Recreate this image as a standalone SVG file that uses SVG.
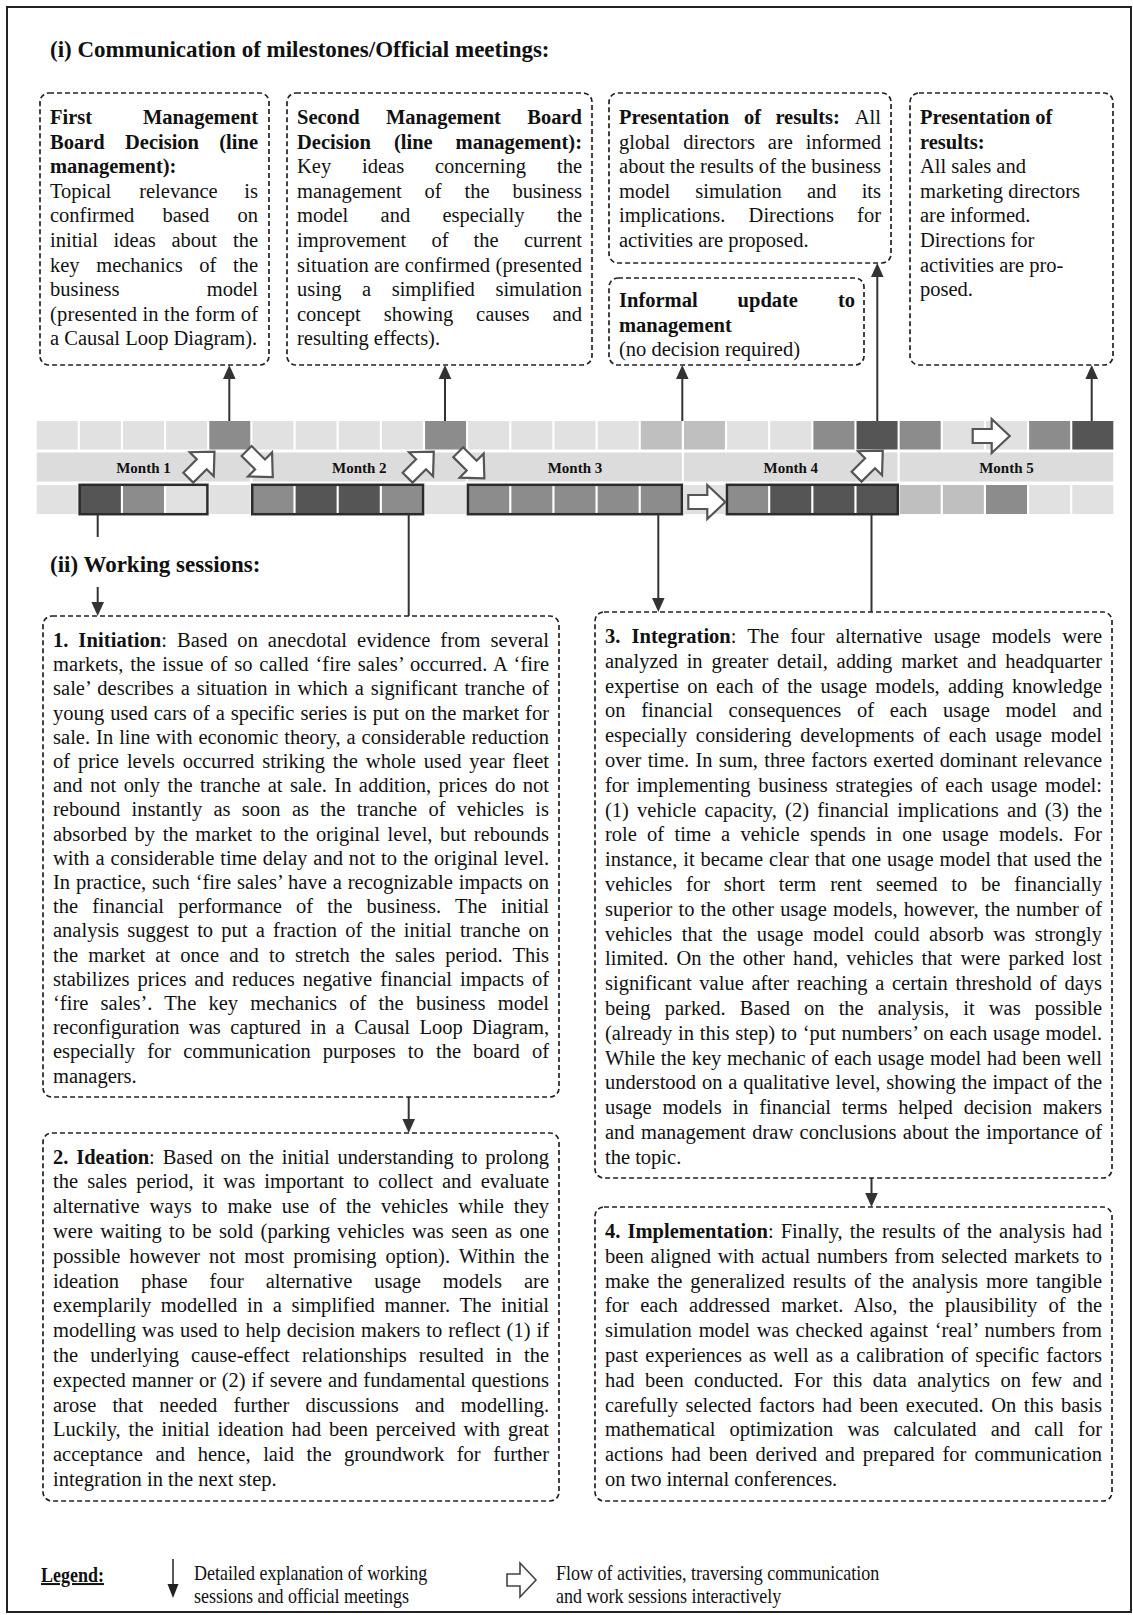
<svg xmlns="http://www.w3.org/2000/svg" xmlns:xlink="http://www.w3.org/1999/xlink" width="1133" height="1615" viewBox="0 0 1133 1615">
<style>
text{font-family:"Liberation Serif","Times New Roman",serif;fill:#111}
.t{font-size:20.5px}
.hb{font-size:23px;font-weight:bold}
.b{font-size:20.5px}
.bold{font-weight:bold}
.end{text-anchor:end}
.mon{font-size:15px;font-weight:bold;text-anchor:middle}
.lg{font-size:20px}
.box{fill:none;stroke:#222;stroke-width:1.7;stroke-dasharray:5 3}
.L{fill:#e1e1e1}.D{fill:#8c8c8c}.X{fill:#555555}.M{fill:#bfbfbf}
.band{fill:#dcdcdc}
.grp{fill:none;stroke:#2b2b2b;stroke-width:2.5}
.ba{fill:#fff;stroke:#555;stroke-width:2.2;stroke-linejoin:miter}
.con{stroke:#333;stroke-width:2;fill:none}
.ah{fill:#333}
</style>
<defs>
<path id="barrow" d="M0,-7 L19,-7 L19,-17 L37,0 L19,17 L19,7 L0,7 Z"/>
</defs>
<rect x="7" y="7" width="1124" height="1605" fill="none" stroke="#222" stroke-width="2"/>

<text class="hb" x="50" y="57">(i) Communication of milestones/Official meetings:</text>

<!-- Top boxes -->
<g id="boxA">
<rect class="box" x="40" y="93" width="229" height="272" rx="9"/>
<text class="t bold" x="50" y="124">First</text><text class="t bold end" x="258" y="124">Management</text>
<text class="t bold" x="50" y="148.6">Board</text><text class="t bold" x="125" y="148.6">Decision</text><text class="t bold end" x="258" y="148.6">(line</text>
<text class="t bold" x="50" y="173.2">management):</text>
<text class="t" x="50" y="197.8">Topical</text><text class="t" x="139.2" y="197.8">relevance</text><text class="t end" x="258" y="197.8">is</text>
<text class="t" x="50" y="222.4">confirmed</text><text class="t" x="162.5" y="222.4">based</text><text class="t end" x="258" y="222.4">on</text>
<text class="t" x="50" y="247">initial</text><text class="t" x="113.6" y="247">ideas</text><text class="t" x="171.5" y="247">about</text><text class="t end" x="258" y="247">the</text>
<text class="t" x="50" y="271.6">key</text><text class="t" x="96.2" y="271.6">mechanics</text><text class="t" x="199.3" y="271.6">of</text><text class="t end" x="258" y="271.6">the</text>
<text class="t" x="50" y="296.2">business</text><text class="t end" x="258" y="296.2">model</text>
<text class="t" x="50" y="320.8" textLength="208" lengthAdjust="spacing">(presented in the form of</text>
<text class="t" x="50" y="345.4">a Causal Loop Diagram).</text>
</g>

<g id="boxB">
<rect class="box" x="287" y="93" width="305" height="272" rx="9"/>
<text class="t bold" x="297" y="124">Second</text><text class="t bold" x="385.9" y="124">Management</text><text class="t bold end" x="582" y="124">Board</text>
<text class="t bold" x="297" y="148.6">Decision</text><text class="t bold" x="394" y="148.6">(line</text><text class="t bold end" x="582" y="148.6">management):</text>
<text class="t" x="297" y="173.2">Key</text><text class="t" x="362" y="173.2">ideas</text><text class="t" x="434.9" y="173.2">concerning</text><text class="t end" x="582" y="173.2">the</text>
<text class="t" x="297" y="197.8">management</text><text class="t" x="424.6" y="197.8">of</text><text class="t" x="464.5" y="197.8">the</text><text class="t end" x="582" y="197.8">business</text>
<text class="t" x="297" y="222.4">model</text><text class="t" x="380.6" y="222.4">and</text><text class="t" x="442.5" y="222.4">especially</text><text class="t end" x="582" y="222.4">the</text>
<text class="t" x="297" y="247">improvement</text><text class="t" x="431.4" y="247">of</text><text class="t" x="473.6" y="247">the</text><text class="t end" x="582" y="247">current</text>
<text class="t" x="297" y="271.6" textLength="285" lengthAdjust="spacing">situation are confirmed (presented</text>
<text class="t" x="297" y="296.2">using</text><text class="t" x="362" y="296.2">a</text><text class="t" x="391.7" y="296.2">simplified</text><text class="t end" x="582" y="296.2">simulation</text>
<text class="t" x="297" y="320.8">concept</text><text class="t" x="383.7" y="320.8">showing</text><text class="t" x="476.1" y="320.8">causes</text><text class="t end" x="582" y="320.8">and</text>
<text class="t" x="297" y="345.4">resulting effects).</text>
</g>

<g id="boxC">
<rect class="box" x="609" y="93" width="282" height="170" rx="9"/>
<text class="t bold" x="619" y="124">Presentation</text><text class="t bold" x="743.9" y="124">of</text><text class="t bold" x="775.4" y="124">results:</text><text class="t end" x="881" y="124">All</text>
<text class="t" x="619" y="148.6">global</text><text class="t" x="683.2" y="148.6">directors</text><text class="t" x="767.8" y="148.6">are</text><text class="t end" x="881" y="148.6">informed</text>
<text class="t" x="619" y="173.2" textLength="262" lengthAdjust="spacing">about the results of the business</text>
<text class="t" x="619" y="197.8">model</text><text class="t" x="695.3" y="197.8">simulation</text><text class="t" x="806.9" y="197.8">and</text><text class="t end" x="881" y="197.8">its</text>
<text class="t" x="619" y="222.4">implications.</text><text class="t" x="748.6" y="222.4">Directions</text><text class="t end" x="881" y="222.4">for</text>
<text class="t" x="619" y="247">activities are proposed.</text>
</g>

<g id="boxD">
<rect class="box" x="609" y="278" width="255" height="87" rx="9"/>
<text class="t bold" x="619" y="307">Informal</text><text class="t bold" x="737.6" y="307">update</text><text class="t bold end" x="855" y="307">to</text>
<text class="t bold" x="619" y="331.6">management</text>
<text class="t" x="619" y="356.2">(no decision required)</text>
</g>

<g id="boxE">
<rect class="box" x="910" y="93" width="203" height="272" rx="9"/>
<text class="t bold" x="920" y="124">Presentation of</text>
<text class="t bold" x="920" y="148.6">results:</text>
<text class="t" x="920" y="173.2">All sales and</text>
<text class="t" x="920" y="197.8">marketing directors</text>
<text class="t" x="920" y="222.4">are informed.</text>
<text class="t" x="920" y="247">Directions for</text>
<text class="t" x="920" y="271.6">activities are pro-</text>
<text class="t" x="920" y="296.2">posed.</text>
</g>

<!-- Timeline -->
<g id="timeline">
<g id="row1">
<rect class="L" x="36.7" y="421" width="41" height="28.5"/>
<rect class="L" x="79.85" y="421" width="41" height="28.5"/>
<rect class="L" x="123" y="421" width="41" height="28.5"/>
<rect class="L" x="166.15" y="421" width="41" height="28.5"/>
<rect class="D" x="209.3" y="421" width="41" height="28.5"/>
<rect class="L" x="252.45" y="421" width="41" height="28.5"/>
<rect class="L" x="295.6" y="421" width="41" height="28.5"/>
<rect class="L" x="338.75" y="421" width="41" height="28.5"/>
<rect class="L" x="381.9" y="421" width="41" height="28.5"/>
<rect class="D" x="425.05" y="421" width="41" height="28.5"/>
<rect class="L" x="468.2" y="421" width="41" height="28.5"/>
<rect class="L" x="511.35" y="421" width="41" height="28.5"/>
<rect class="L" x="554.5" y="421" width="41" height="28.5"/>
<rect class="L" x="597.65" y="421" width="41" height="28.5"/>
<rect class="M" x="640.8" y="421" width="41" height="28.5"/>
<rect class="M" x="683.95" y="421" width="41" height="28.5"/>
<rect class="L" x="727.1" y="421" width="41" height="28.5"/>
<rect class="L" x="770.25" y="421" width="41" height="28.5"/>
<rect class="D" x="813.4" y="421" width="41" height="28.5"/>
<rect class="X" x="856.55" y="421" width="41" height="28.5"/>
<rect class="D" x="899.7" y="421" width="41" height="28.5"/>
<rect class="L" x="942.85" y="421" width="41" height="28.5"/>
<rect class="L" x="986" y="421" width="41" height="28.5"/>
<rect class="D" x="1029.15" y="421" width="41" height="28.5"/>
<rect class="X" x="1072.3" y="421" width="41" height="28.5"/>
</g>
<g id="months">
<rect class="band" x="36.7" y="452.5" width="213.6" height="29"/>
<rect class="band" x="252.45" y="452.5" width="213.6" height="29"/>
<rect class="band" x="468.2" y="452.5" width="213.6" height="29"/>
<rect class="band" x="683.95" y="452.5" width="213.6" height="29"/>
<rect class="band" x="899.7" y="452.5" width="213.6" height="29"/>
<text class="mon" x="143.5" y="472.5">Month 1</text>
<text class="mon" x="359.3" y="472.5">Month 2</text>
<text class="mon" x="575" y="472.5">Month 3</text>
<text class="mon" x="790.8" y="472.5">Month 4</text>
<text class="mon" x="1006.5" y="472.5">Month 5</text>
</g>
<g id="row3">
<rect class="L" x="36.7" y="485" width="41" height="29"/>
<rect class="X" x="79.85" y="485" width="41" height="29"/>
<rect class="D" x="123" y="485" width="41" height="29"/>
<rect class="L" x="166.15" y="485" width="41" height="29"/>
<rect class="L" x="209.3" y="485" width="41" height="29"/>
<rect class="D" x="252.45" y="485" width="41" height="29"/>
<rect class="X" x="295.6" y="485" width="41" height="29"/>
<rect class="X" x="338.75" y="485" width="41" height="29"/>
<rect class="D" x="381.9" y="485" width="41" height="29"/>
<rect class="L" x="425.05" y="485" width="41" height="29"/>
<rect class="D" x="468.2" y="485" width="41" height="29"/>
<rect class="D" x="511.35" y="485" width="41" height="29"/>
<rect class="D" x="554.5" y="485" width="41" height="29"/>
<rect class="D" x="597.65" y="485" width="41" height="29"/>
<rect class="D" x="640.8" y="485" width="41" height="29"/>
<rect class="L" x="683.95" y="485" width="41" height="29"/>
<rect class="D" x="727.1" y="485" width="41" height="29"/>
<rect class="X" x="770.25" y="485" width="41" height="29"/>
<rect class="X" x="813.4" y="485" width="41" height="29"/>
<rect class="X" x="856.55" y="485" width="41" height="29"/>
<rect class="M" x="899.7" y="485" width="41" height="29"/>
<rect class="M" x="942.85" y="485" width="41" height="29"/>
<rect class="D" x="986" y="485" width="41" height="29"/>
<rect class="L" x="1029.15" y="485" width="41" height="29"/>
<rect class="L" x="1072.3" y="485" width="41" height="29"/>
<rect class="grp" x="79.6" y="484.8" width="127.8" height="29.4"/>
<rect class="grp" x="252.2" y="484.8" width="170.9" height="29.4"/>
<rect class="grp" x="467.9" y="484.8" width="214" height="29.4"/>
<rect class="grp" x="726.9" y="484.8" width="170.9" height="29.4"/>
</g>
<g id="flow-arrows">
<use xlink:href="#barrow" class="ba" transform="translate(188.3,477.7) rotate(-45)"/>
<use xlink:href="#barrow" class="ba" transform="translate(246.6,451) rotate(45)"/>
<use xlink:href="#barrow" class="ba" transform="translate(407.6,477.7) rotate(-45)"/>
<use xlink:href="#barrow" class="ba" transform="translate(458.2,452.2) rotate(45)"/>
<use xlink:href="#barrow" class="ba" transform="translate(688.3,502)"/>
<use xlink:href="#barrow" class="ba" transform="translate(856.6,476.7) rotate(-45)"/>
<use xlink:href="#barrow" class="ba" transform="translate(972.7,436)"/>
</g>
</g>

<text class="hb" x="50" y="572">(ii) Working sessions:</text>

<!-- Connectors -->
<g id="connectors">
<line class="con" x1="229.3" y1="421" x2="229.3" y2="378"/><polygon class="ah" points="223,379 235.6,379 229.3,365"/>
<line class="con" x1="445" y1="421" x2="445" y2="378"/><polygon class="ah" points="438.7,379 451.3,379 445,365"/>
<line class="con" x1="682.3" y1="421" x2="682.3" y2="378"/><polygon class="ah" points="676,379 688.6,379 682.3,365"/>
<line class="con" x1="877.3" y1="421" x2="877.3" y2="276"/><polygon class="ah" points="871,277 883.6,277 877.3,263"/>
<line class="con" x1="1091.7" y1="421" x2="1091.7" y2="378"/><polygon class="ah" points="1085.4,379 1098,379 1091.7,365"/>
<line class="con" x1="97.7" y1="514" x2="97.7" y2="537"/>
<line class="con" x1="97.7" y1="587" x2="97.7" y2="603"/><polygon class="ah" points="91.4,602 104,602 97.7,616"/>
<line class="con" x1="408.7" y1="514" x2="408.7" y2="616"/>
<line class="con" x1="658.3" y1="514" x2="658.3" y2="599"/><polygon class="ah" points="652,598 664.6,598 658.3,612"/>
<line class="con" x1="871.5" y1="514" x2="871.5" y2="612"/>
<line class="con" x1="408.7" y1="1097" x2="408.7" y2="1120"/><polygon class="ah" points="402.4,1119 415,1119 408.7,1133"/>
<line class="con" x1="871.5" y1="1178" x2="871.5" y2="1194"/><polygon class="ah" points="865.2,1193 877.8,1193 871.5,1207"/>
</g>

<!-- Working session boxes -->
<g id="box1">
<rect class="box" x="43" y="616" width="516" height="481" rx="9"/>
<text class="b" x="53" y="647" textLength="496" lengthAdjust="spacing" word-spacing="4.6"><tspan class="bold">1. Initiation</tspan>: Based on anecdotal evidence from several</text>
<text class="b" x="53" y="671.2" textLength="496" lengthAdjust="spacing" word-spacing="1.6">markets, the issue of so called ‘fire sales’ occurred. A ‘fire</text>
<text class="b" x="53" y="695.4" textLength="496" lengthAdjust="spacing" word-spacing="1.8">sale’ describes a situation in which a significant tranche of</text>
<text class="b" x="53" y="719.6" textLength="496" lengthAdjust="spacing" word-spacing="0.8">young used cars of a specific series is put on the market for</text>
<text class="b" x="53" y="743.8" textLength="496" lengthAdjust="spacing" word-spacing="0.8">sale. In line with economic theory, a considerable reduction</text>
<text class="b" x="53" y="768" textLength="496" lengthAdjust="spacing" word-spacing="2.8">of price levels occurred striking the whole used year fleet</text>
<text class="b" x="53" y="792.2" textLength="496" lengthAdjust="spacing" word-spacing="2.3">and not only the tranche at sale. In addition, prices do not</text>
<text class="b" x="53" y="816.4" textLength="496" lengthAdjust="spacing" word-spacing="6.2">rebound instantly as soon as the tranche of vehicles is</text>
<text class="b" x="53" y="840.6" textLength="496" lengthAdjust="spacing" word-spacing="2.5">absorbed by the market to the original level, but rebounds</text>
<text class="b" x="53" y="864.8" textLength="496" lengthAdjust="spacing" word-spacing="0.8">with a considerable time delay and not to the original level.</text>
<text class="b" x="53" y="889" textLength="496" lengthAdjust="spacing" word-spacing="0.7">In practice, such ‘fire sales’ have a recognizable impacts on</text>
<text class="b" x="53" y="913.2" textLength="496" lengthAdjust="spacing" word-spacing="9">the financial performance of the business. The initial</text>
<text class="b" x="53" y="937.4" textLength="496" lengthAdjust="spacing" word-spacing="3.1">analysis suggest to put a fraction of the initial tranche on</text>
<text class="b" x="53" y="961.6" textLength="496" lengthAdjust="spacing" word-spacing="5">the market at once and to stretch the sales period. This</text>
<text class="b" x="53" y="985.8" textLength="496" lengthAdjust="spacing" word-spacing="2.9">stabilizes prices and reduces negative financial impacts of</text>
<text class="b" x="53" y="1010" textLength="496" lengthAdjust="spacing" word-spacing="7.1">‘fire sales’. The key mechanics of the business model</text>
<text class="b" x="53" y="1034.2" textLength="496" lengthAdjust="spacing" word-spacing="4.3">reconfiguration was captured in a Causal Loop Diagram,</text>
<text class="b" x="53" y="1058.4" textLength="496" lengthAdjust="spacing" word-spacing="7">especially for communication purposes to the board of</text>
<text class="b" x="53" y="1082.6">managers.</text>
</g>

<g id="box2">
<rect class="box" x="43" y="1133" width="516" height="368" rx="9"/>
<text class="b" x="53" y="1163.6" textLength="496" lengthAdjust="spacing" word-spacing="2.7"><tspan class="bold">2. Ideation</tspan>: Based on the initial understanding to prolong</text>
<text class="b" x="53" y="1188.4" textLength="496" lengthAdjust="spacing" word-spacing="4">the sales period, it was important to collect and evaluate</text>
<text class="b" x="53" y="1213.2" textLength="496" lengthAdjust="spacing" word-spacing="4.8">alternative ways to make use of the vehicles while they</text>
<text class="b" x="53" y="1238" textLength="496" lengthAdjust="spacing" word-spacing="2.2">were waiting to be sold (parking vehicles was seen as one</text>
<text class="b" x="53" y="1262.8" textLength="496" lengthAdjust="spacing" word-spacing="3.8">possible however not most promising option). Within the</text>
<text class="b" x="53" y="1287.6" textLength="496" lengthAdjust="spacing" word-spacing="16.8">ideation phase four alternative usage models are</text>
<text class="b" x="53" y="1312.4" textLength="496" lengthAdjust="spacing" word-spacing="4.5">exemplarily modelled in a simplified manner. The initial</text>
<text class="b" x="53" y="1337.2" textLength="496" lengthAdjust="spacing" word-spacing="0.9">modelling was used to help decision makers to reflect (1) if</text>
<text class="b" x="53" y="1362" textLength="496" lengthAdjust="spacing" word-spacing="7">the underlying cause-effect relationships resulted in the</text>
<text class="b" x="53" y="1386.8" textLength="496" lengthAdjust="spacing" word-spacing="0.7">expected manner or (2) if severe and fundamental questions</text>
<text class="b" x="53" y="1411.6" textLength="496" lengthAdjust="spacing" word-spacing="11">arose that needed further discussions and modelling.</text>
<text class="b" x="53" y="1436.4" textLength="496" lengthAdjust="spacing" word-spacing="2.7">Luckily, the initial ideation had been perceived with great</text>
<text class="b" x="53" y="1461.2" textLength="496" lengthAdjust="spacing" word-spacing="7.4">acceptance and hence, laid the groundwork for further</text>
<text class="b" x="53" y="1486">integration in the next step.</text>
</g>

<g id="box3">
<rect class="box" x="595" y="612" width="517" height="566" rx="9"/>
<text class="b" x="605" y="643" textLength="497" lengthAdjust="spacing" word-spacing="6.1"><tspan class="bold">3. Integration</tspan>: The four alternative usage models were</text>
<text class="b" x="605" y="667.8" textLength="497" lengthAdjust="spacing" word-spacing="3.7">analyzed in greater detail, adding market and headquarter</text>
<text class="b" x="605" y="692.6" textLength="497" lengthAdjust="spacing" word-spacing="3.1">expertise on each of the usage models, adding knowledge</text>
<text class="b" x="605" y="717.4" textLength="497" lengthAdjust="spacing" word-spacing="10.6">on financial consequences of each usage model and</text>
<text class="b" x="605" y="742.2" textLength="497" lengthAdjust="spacing" word-spacing="3.7">especially considering developments of each usage model</text>
<text class="b" x="605" y="767" textLength="497" lengthAdjust="spacing" word-spacing="1.1">over time. In sum, three factors exerted dominant relevance</text>
<text class="b" x="605" y="791.8" textLength="497" lengthAdjust="spacing" word-spacing="2.6">for implementing business strategies of each usage model:</text>
<text class="b" x="605" y="816.6" textLength="497" lengthAdjust="spacing" word-spacing="3">(1) vehicle capacity, (2) financial implications and (3) the</text>
<text class="b" x="605" y="841.4" textLength="497" lengthAdjust="spacing" word-spacing="5.1">role of time a vehicle spends in one usage models. For</text>
<text class="b" x="605" y="866.2" textLength="497" lengthAdjust="spacing" word-spacing="0.8">instance, it became clear that one usage model that used the</text>
<text class="b" x="605" y="891" textLength="497" lengthAdjust="spacing" word-spacing="8.75">vehicles for short term rent seemed to be financially</text>
<text class="b" x="605" y="915.8" textLength="497" lengthAdjust="spacing" word-spacing="1">superior to the other usage models, however, the number of</text>
<text class="b" x="605" y="940.6" textLength="497" lengthAdjust="spacing" word-spacing="4.5">vehicles that the usage model could absorb was strongly</text>
<text class="b" x="605" y="965.4" textLength="497" lengthAdjust="spacing" word-spacing="3">limited. On the other hand, vehicles that were parked lost</text>
<text class="b" x="605" y="990.2" textLength="497" lengthAdjust="spacing" word-spacing="2.6">significant value after reaching a certain threshold of days</text>
<text class="b" x="605" y="1015" textLength="497" lengthAdjust="spacing" word-spacing="9">being parked. Based on the analysis, it was possible</text>
<text class="b" x="605" y="1039.8" textLength="497" lengthAdjust="spacing" word-spacing="0.6">(already in this step) to ‘put numbers’ on each usage model.</text>
<text class="b" x="605" y="1064.6" textLength="497" lengthAdjust="spacing" word-spacing="0.6">While the key mechanic of each usage model had been well</text>
<text class="b" x="605" y="1089.4" textLength="497" lengthAdjust="spacing" word-spacing="0.7">understood on a qualitative level, showing the impact of the</text>
<text class="b" x="605" y="1114.2" textLength="497" lengthAdjust="spacing" word-spacing="5.7">usage models in financial terms helped decision makers</text>
<text class="b" x="605" y="1139" textLength="497" lengthAdjust="spacing" word-spacing="1.3">and management draw conclusions about the importance of</text>
<text class="b" x="605" y="1163.8">the topic.</text>
</g>

<g id="box4">
<rect class="box" x="595" y="1207" width="517" height="294" rx="9"/>
<text class="b" x="605" y="1238" textLength="497" lengthAdjust="spacing" word-spacing="1.9"><tspan class="bold">4. Implementation</tspan>: Finally, the results of the analysis had</text>
<text class="b" x="605" y="1262.8" textLength="497" lengthAdjust="spacing" word-spacing="1.8">been aligned with actual numbers from selected markets to</text>
<text class="b" x="605" y="1287.6" textLength="497" lengthAdjust="spacing" word-spacing="2.8">make the generalized results of the analysis more tangible</text>
<text class="b" x="605" y="1312.4" textLength="497" lengthAdjust="spacing" word-spacing="6.2">for each addressed market. Also, the plausibility of the</text>
<text class="b" x="605" y="1337.2" textLength="497" lengthAdjust="spacing" word-spacing="1.6">simulation model was checked against ‘real’ numbers from</text>
<text class="b" x="605" y="1362" textLength="497" lengthAdjust="spacing" word-spacing="2">past experiences as well as a calibration of specific factors</text>
<text class="b" x="605" y="1386.8" textLength="497" lengthAdjust="spacing" word-spacing="5.2">had been conducted. For this data analytics on few and</text>
<text class="b" x="605" y="1411.6" textLength="497" lengthAdjust="spacing" word-spacing="2.4">carefully selected factors had been executed. On this basis</text>
<text class="b" x="605" y="1436.4" textLength="497" lengthAdjust="spacing" word-spacing="9">mathematical optimization was calculated and call for</text>
<text class="b" x="605" y="1461.2" textLength="497" lengthAdjust="spacing" word-spacing="2.9">actions had been derived and prepared for communication</text>
<text class="b" x="605" y="1486">on two internal conferences.</text>
</g>

<!-- Legend -->
<g id="legend">
<text class="lg bold" transform="translate(41,1582) scale(0.9,1)" text-decoration="underline">Legend:</text>
<line x1="173" y1="1559" x2="173" y2="1585" stroke="#222" stroke-width="1.5"/>
<polygon points="167.5,1584 178.5,1584 173,1598" fill="#222"/>
<text class="lg" transform="translate(194,1580) scale(0.9,1)">Detailed explanation of working</text>
<text class="lg" transform="translate(194,1603) scale(0.9,1)">sessions and official meetings</text>
<path d="M507,1574 L520,1574 L520,1563 L536,1580 L520,1597 L520,1586 L507,1586 Z" fill="#fff" stroke="#444" stroke-width="1.6"/>
<text class="lg" transform="translate(556,1580) scale(0.9,1)">Flow of activities, traversing communication</text>
<text class="lg" transform="translate(556,1603) scale(0.9,1)">and work sessions interactively</text>
</g>
</svg>
